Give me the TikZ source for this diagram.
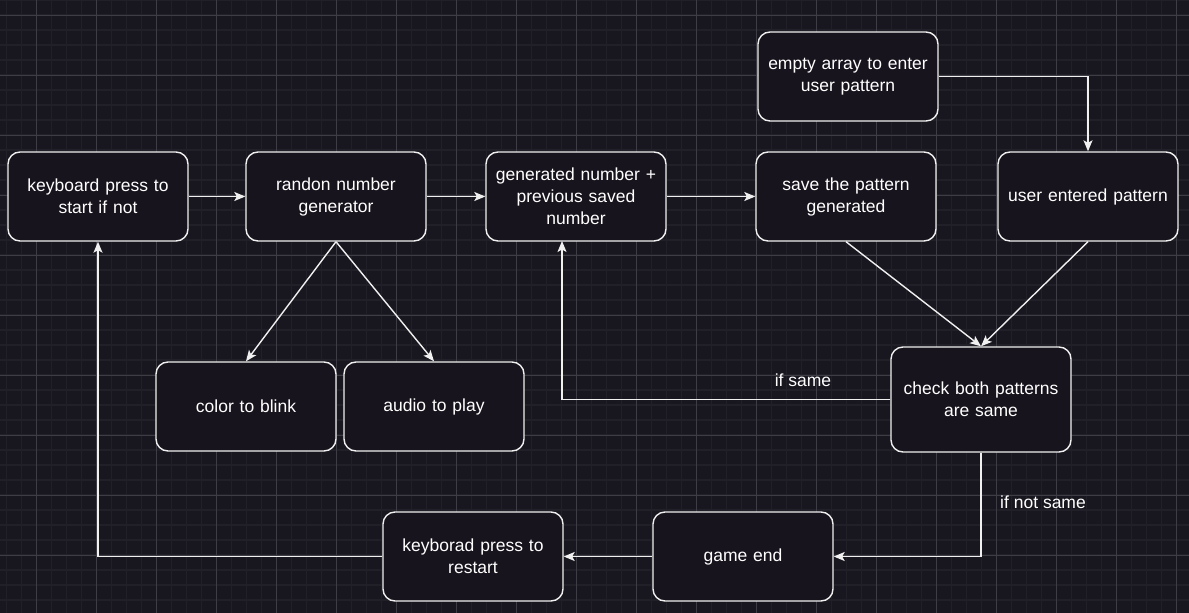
\documentclass[tikz,border=0pt]{standalone}
\usepackage{fontspec}
\setmainfont{Liberation Sans}
\usetikzlibrary{arrows.meta}
\definecolor{bgc}{HTML}{18161E}
\definecolor{minorc}{HTML}{211F27}
\definecolor{majorc}{HTML}{3E3C44}
\definecolor{boxfill}{HTML}{18141D}
\definecolor{linec}{HTML}{F0F0F0}
\tikzset{
  box/.style={draw=linec, fill=boxfill, line width=1.4pt, rounded corners=12pt,
    minimum width=180pt, minimum height=89pt, inner sep=0pt, text=white,
    align=center, text width=170pt, font=\fontsize{17.5}{22}\selectfont},
  conn/.style={draw=linec, line width=1.4pt, -{Stealth[length=11pt,width=9pt,inset=2.5pt]}},
  lbl/.style={text=white, font=\fontsize{17.5}{22}\selectfont, inner sep=0pt}
}
\begin{document}
\begin{tikzpicture}[x=1pt,y=-1pt]
\useasboundingbox (0,0) rectangle (1189,613);
\fill[bgc] (0,0) rectangle (1189,613);
% minor grid
\foreach \i in {0,...,79} {
  \draw[minorc, line width=1.1pt] ({6.5+15*\i},0) -- ({6.5+15*\i},613);
}
\foreach \j in {0,...,41} {
  \draw[minorc, line width=1.1pt] (0,{15*\j}) -- (1189,{15*\j});
}
% major grid
\foreach \i in {0,...,19} {
  \draw[majorc, line width=0.8pt] ({36.5+60*\i},0) -- ({36.5+60*\i},613);
}
\foreach \j in {0,...,10} {
  \draw[majorc, line width=0.8pt] (0,{15+60*\j}) -- (1189,{15+60*\j});
}
% nodes
\node[box] (A) at (98,196.5) {keyboard press to\\start if not};
\node[box] (B) at (336,196.5) {randon number\\generator};
\node[box] (C) at (576,196.5) {generated number +\\previous saved\\number};
\node[box] (D) at (846,196.5) {save the pattern\\generated};
\node[box] (E) at (1088,196.5) {user entered pattern};
\node[box] (F) at (848,76.5) {empty array to enter\\user pattern};
\node[box] (G) at (246,406.5) {color to blink};
\node[box] (H) at (434,406.5) {audio to play};
\node[box, minimum height=105pt] (I) at (981,399.5) {check both patterns\\are same};
\node[box] (J) at (743,556.5) {game end};
\node[box] (K) at (473,556.5) {keyborad press to\\restart};
% connectors
\draw[conn] (A.east) -- (B.west);
\draw[conn] (B.east) -- (C.west);
\draw[conn] (C.east) -- (D.west);
\draw[conn] (F.east) -| (E.north);
\draw[conn] (B.south) -- (G.north);
\draw[conn] (B.south) -- (H.north);
\draw[conn] (D.south) -- (I.north);
\draw[conn] (E.south) -- (I.north);
\coordinate (cb) at (562,241);
\draw[conn] (I.west) -| (cb);
\draw[conn] (I.south) |- (J.east);
\draw[conn] (J.west) -- (K.east);
\draw[conn] (K.west) -| (A.south);
% labels
\node[lbl] (l1) at (803,380) {if same};
\node[lbl] (l2) at (1043,502) {if not same};
\end{tikzpicture}
\end{document}
